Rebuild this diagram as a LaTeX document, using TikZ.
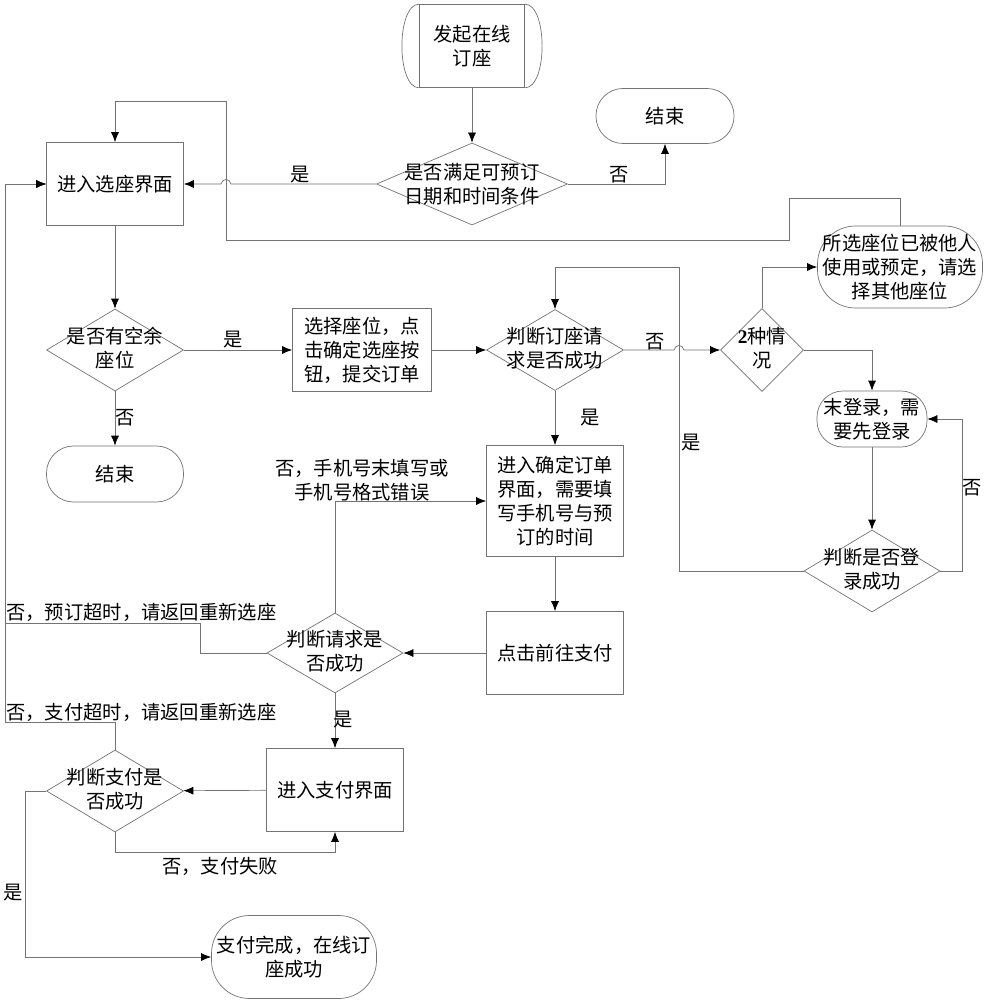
\documentclass[tikz,border=0pt]{standalone}
\usepackage{fontspec}
\newfontfamily\cjk{Noto Sans CJK SC}
\newfontfamily\numserif{Liberation Serif}
\usetikzlibrary{shapes.geometric,arrows.meta}
\definecolor{ln}{RGB}{115,115,115}
\tikzset{
  base/.style={draw=ln, line width=0.7pt, inner sep=1pt, align=center},
  proc/.style={base, rectangle},
  term/.style={base, rectangle, rounded corners=#1},
  dia/.style={draw=ln, line width=0.7pt, diamond, inner sep=0pt},
  txt/.style={align=center, inner sep=0pt},
  conn/.style={draw=ln, line width=0.7pt, -{Latex[length=10pt,width=8pt,color=black]}},
  lbl/.style={inner sep=0pt},
}
\begin{document}
\begin{tikzpicture}[x=1pt,y=-1pt,font=\cjk\fontsize{19.3}{24}\selectfont]
\useasboundingbox (0,0) rectangle (984,1000);
\fill[white] (0,0) rectangle (984,1000);

% start
\node[base, minimum width=105pt, minimum height=83pt] (start) at (472,46) {发起在线\\订座};
\draw[draw=ln, line width=0.7pt] (start.north west) .. controls +(-23,0) and +(-23,0) .. (start.south west);
\draw[draw=ln, line width=0.7pt] (start.north east) .. controls +(23,0) and +(23,0) .. (start.south east);

% nodes
\node[dia, minimum width=191pt, minimum height=82pt] (d1) at (472,184) {};
\node[txt] (d1t) at (d1) {是否满足可预订\\日期和时间条件};
\node[term=27pt, minimum width=138pt, minimum height=55pt] (end1) at (665,116) {结束};
\node[proc, minimum width=137pt, minimum height=83pt] (sel) at (115,184) {进入选座界面};
\node[dia, minimum width=137pt, minimum height=82pt] (d2) at (115,350) {};
\node[txt] (d2t) at (115,348) {是否有空余\\座位};
\node[proc, minimum width=139pt, minimum height=83pt] (choose) at (362,350) {选择座位，点\\击确定选座按\\钮，提交订单};
\node[term=27pt, minimum width=137pt, minimum height=56pt] (end2) at (115,474) {结束};
\node[dia, minimum width=137pt, minimum height=81pt] (d3) at (555,350) {};
\node[txt] (d3t) at (555,348) {判断订座请\\求是否成功};
\node[dia, minimum width=83pt, minimum height=83pt] (d4) at (762,350) {};
\node[txt] (d4t) at (762,348) {{\numserif\bfseries 2}种情\\况};
\node[term=38pt, minimum width=165pt, minimum height=82pt] (occ) at (900,267) {所选座位已被他人\\使用或预定，请选\\择其他座位};
\node[term=26pt, minimum width=110pt, minimum height=56pt] (login) at (872,419) {末登录，需\\要先登录};
\node[dia, minimum width=136pt, minimum height=82pt] (d5) at (872,571) {};
\node[txt] (d5t) at (872,569) {判断是否登\\录成功};
\node[proc, minimum width=137pt, minimum height=111pt] (confirm) at (555,501) {进入确定订单\\界面，需要填\\写手机号与预\\订的时间};
\node[proc, minimum width=137pt, minimum height=83pt] (gopay) at (555,653) {点击前往支付};
\node[dia, minimum width=136pt, minimum height=80pt] (d6) at (335,653) {};
\node[txt] (d6t) at (335,651) {判断请求是\\否成功};
\node[proc, minimum width=137pt, minimum height=83pt] (paybox) at (335,790) {进入支付界面};
\node[dia, minimum width=137pt, minimum height=82pt] (d7) at (115,791) {};
\node[txt] (d7t) at (115,789) {判断支付是\\否成功};
\node[term=38pt, minimum width=165pt, minimum height=83pt] (done) at (294,957) {支付完成，在线订\\座成功};

% connectors
\draw[conn] (start) -- (d1);
\draw[conn] (d1.east) -| (end1.south);
\draw[conn] (d1.west) -- (231,184) .. controls (230,178) and (222,178) .. (221,184) -- (sel.east);
\draw[conn] (occ.north) |- (789,198) |- (226,240) |- (115,101) -- (sel.north);
\draw[conn] (sel) -- (d2);
\draw[conn] (d2) -- (choose);
\draw[conn] (d2) -- (end2);
\draw[conn] (choose) -- (d3);
\draw[conn] (d3.east) -- (674,350) .. controls (675,344) and (683,344) .. (684,350) -- (d4.west);
\draw[conn] (d4.north) |- (occ.west);
\draw[conn] (d4.east) -| (login.north);
\draw[conn] (login) -- (d5);
\draw[conn] (d5.east) -- (962,571) |- (login.east);
\draw[conn] (d5.west) -| (679,267) -| (d3.north);
\draw[conn] (d3) -- (confirm);
\draw[conn] (confirm) -- (gopay);
\draw[conn] (gopay) -- (d6);
\draw[conn] (d6.north) |- (confirm.west);
\draw[conn] (d6.west) -| (200,623) -| (5,184) -- (sel.west);
\draw[conn] (d6) -- (paybox);
\draw[conn] (paybox) -- (d7);
\draw[conn] (d7.north) |- (5,722) -- (5,184) -- (sel.west);
\draw[conn] (d7.south) -- (115,852) -| (paybox.south);
\draw[conn] (d7.west) -| (25,957) -- (done.west);

% labels
\node[lbl] (l1) at (300,175) {是};
\node[lbl] (l2) at (619,175) {否};
\node[lbl] (l3) at (233,340) {是};
\node[lbl] (l4) at (125,418) {否};
\node[lbl] (l5) at (655,342) {否};
\node[lbl] (l6) at (590,418) {是};
\node[lbl] (l7) at (691,443) {是};
\node[lbl] (l8) at (972,488) {否};
\node[lbl, align=center] (l9) at (362,480) {否，手机号末填写或\\手机号格式错误};
\node[lbl, anchor=west] (l10) at (6,612) {否，预订超时，请返回重新选座};
\node[lbl, anchor=west] (l11) at (6,712) {否，支付超时，请返回重新选座};
\node[lbl] (l12) at (343,720) {是};
\node[lbl] (l13) at (220,866) {否，支付失败};
\node[lbl] (l14) at (13,893) {是};
\end{tikzpicture}
\end{document}
